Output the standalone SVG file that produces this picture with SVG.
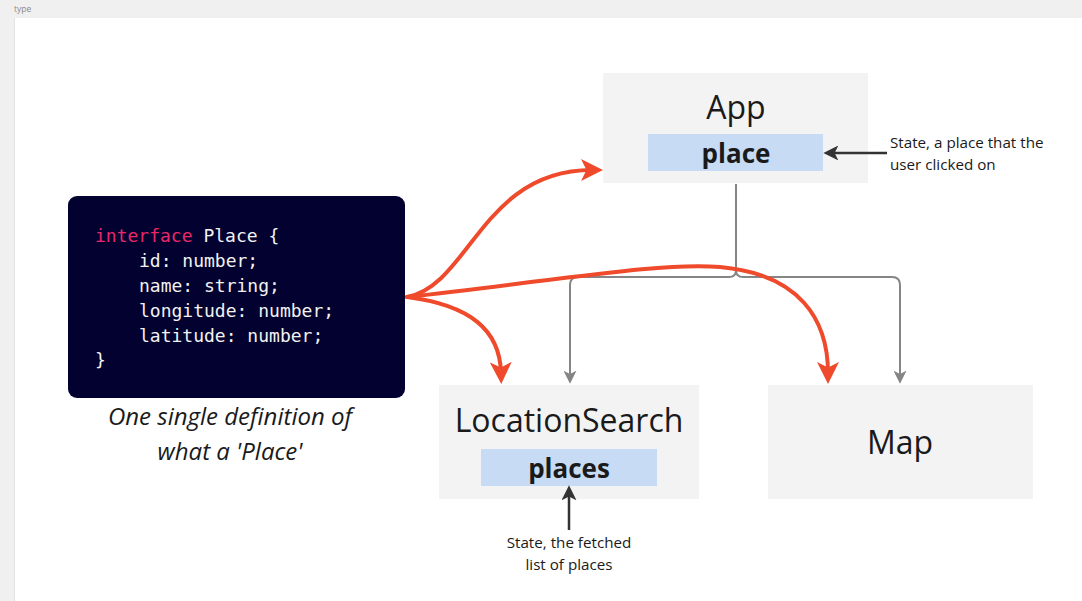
<svg xmlns="http://www.w3.org/2000/svg" width="1082" height="601" viewBox="0 0 1082 601">
<defs>
<style>
.box{fill:#f3f3f3}
.state{fill:#c7dbf4}
.title{font-family:"Open Sans","Liberation Sans",sans-serif;font-size:32px;fill:#1a1a1a;text-anchor:middle}
.bold{font-family:"Open Sans","Liberation Sans",sans-serif;font-size:26px;font-weight:bold;fill:#1a1a1a;text-anchor:middle}
.note{font-family:"Open Sans","Liberation Sans",sans-serif;font-size:15.2px;fill:#1a1a1a}
.code{font-family:"DejaVu Sans Mono","Liberation Mono",monospace;font-size:18px;fill:#f2f2f2}
.kw{fill:#e8286a}
.cap{font-family:"Open Sans","Liberation Sans",sans-serif;font-size:24px;font-style:italic;fill:#1a1a1a;text-anchor:middle}
.red{fill:none;stroke:#ef4a2b;stroke-width:4;stroke-linecap:round}
.gray{fill:none;stroke:#858585;stroke-width:2}
.dark{fill:none;stroke:#333333;stroke-width:2.5}
</style>
<marker id="ar" viewBox="0 0 20 20" markerUnits="userSpaceOnUse" markerWidth="22" markerHeight="22" refX="10" refY="10" orient="auto">
<path d="M0,0 L20,10 L0,20 L5,10 z" fill="#ef4a2b"/>
</marker>
<marker id="ag" viewBox="0 0 12 12" markerUnits="userSpaceOnUse" markerWidth="13" markerHeight="13" refX="4" refY="6" orient="auto">
<path d="M0,0 L12,6 L0,12 L3,6 z" fill="#858585"/>
</marker>
<marker id="ad" viewBox="0 0 14 14" markerUnits="userSpaceOnUse" markerWidth="15" markerHeight="15" refX="5" refY="7" orient="auto">
<path d="M0,0 L14,7 L0,14 L3.5,7 z" fill="#333333"/>
</marker>
</defs>
<rect x="0" y="0" width="1082" height="601" fill="#ffffff"/>
<rect x="0" y="0" width="1082" height="18" fill="#f0f0f0"/>
<rect x="0" y="0" width="14" height="601" fill="#f0f0f0"/>
<line x1="14.5" y1="18" x2="14.5" y2="601" stroke="#e2e2e2" stroke-width="1"/>
<text x="14" y="12" font-family="Open Sans, Liberation Sans, sans-serif" font-size="8.5" fill="#8a8a8a">type</text>

<g id="code">
<rect x="68" y="196" width="337" height="202" rx="9" fill="#03012f"/>
<text class="code" x="95" y="242"><tspan class="kw">interface</tspan> Place {</text>
<text class="code" x="139" y="267">id: number;</text>
<text class="code" x="139" y="292">name: string;</text>
<text class="code" x="139" y="317">longitude: number;</text>
<text class="code" x="139" y="342">latitude: number;</text>
<text class="code" x="95" y="366">}</text>
</g>

<g id="caption">
<text class="cap" x="230" y="425">One single definition of</text>
<text class="cap" x="230" y="460">what a 'Place'</text>
</g>

<g id="app">
<rect class="box" x="603" y="73" width="265" height="110"/>
<text class="title" x="736" y="119">App</text>
<rect class="state" x="648" y="134" width="175" height="37"/>
<text class="bold" x="736" y="163">place</text>
</g>

<g id="location-search">
<rect class="box" x="439" y="385" width="260" height="114"/>
<text class="title" x="569" y="432">LocationSearch</text>
<rect class="state" x="481" y="449" width="176" height="37"/>
<text class="bold" x="569" y="478">places</text>
</g>

<g id="map">
<rect class="box" x="768" y="385" width="265" height="114"/>
<text class="title" x="900" y="454">Map</text>
</g>

<g id="note-app">
<text class="note" x="890" y="148">State, a place that the</text>
<text class="note" x="890" y="170">user clicked on</text>
</g>

<g id="note-search">
<text class="note" x="569" y="548" text-anchor="middle">State, the fetched</text>
<text class="note" x="569" y="570" text-anchor="middle">list of places</text>
</g>

<g id="connectors">
<path class="gray" d="M736,184 V270 Q736,277 729,277 H578 Q570,277 570,285 V375" marker-end="url(#ag)"/>
<path class="gray" d="M736,270 Q736,277 743,277 H892 Q900,277 900,285 V375" marker-end="url(#ag)"/>
<path class="red" d="M407,297 C470,285 482,170 592,170" marker-end="url(#ar)"/>
<path class="red" d="M407,297 C470,305 500,330 501,373" marker-end="url(#ar)"/>
<path class="red" d="M407,297 C560,280 660,262 720,267 C800,274 828,320 828,373" marker-end="url(#ar)"/>
<path class="dark" d="M887,153 H833" marker-end="url(#ad)"/>
<path class="dark" d="M569,530 V495" marker-end="url(#ad)"/>
</g>
</svg>
